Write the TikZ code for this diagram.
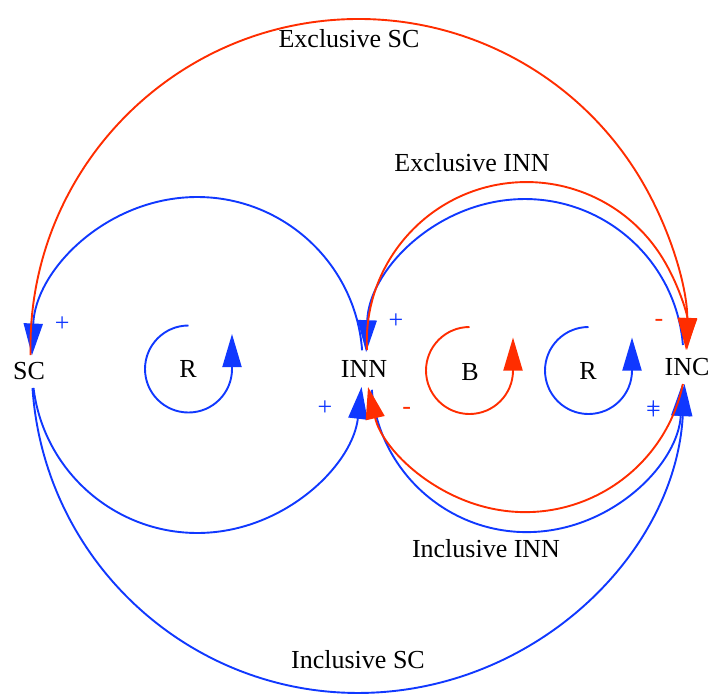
\documentclass[tikz,border=0pt]{standalone}
\usepackage{fontspec}
\setmainfont{Liberation Serif}
\usetikzlibrary{arrows.meta}
\definecolor{vblue}{RGB}{16,56,255}
\definecolor{vred}{RGB}{255,45,0}
\begin{document}
\begin{tikzpicture}[x=1pt,y=-1pt,
  txt/.style={font=\fontsize{26}{30}\selectfont, inner sep=0pt, anchor=center},
  pol/.style={font=\fontsize{26}{30}\selectfont, inner sep=0pt, anchor=base},
  link/.style={line width=1.9pt, -{Triangle[length=32pt,width=19pt]}},
  bluelink/.style={link, draw=vblue},
  redlink/.style={link, draw=vred},
  loopbox/.style={line width=1.9pt, -{Triangle[length=33pt,width=19pt]}}
]
\path[use as bounding box] (0,0) rectangle (708,698);

% variables
\node[txt] (SC)  at (29,371)  {SC};
\node[txt] (INN) at (364,369) {INN};
\node[txt] (INC) at (687,367) {INC};

% connector end points
\coordinate (SCtop)   at (30.55,355.0);
\coordinate (INNtopA) at (362.1,350.3);
\coordinate (SCbot)   at (33.5,387.9);
\coordinate (INNtopB) at (367.0,350.1);
\coordinate (INCtop)  at (682.9,345.0);
\coordinate (INCbot)  at (682.9,384.0);
\coordinate (INNbot)  at (371.8,389.8);
\coordinate (SCbotB)  at (32.5,388.0);

% INN -> SC (upper)
\draw[bluelink] (INNtopA) arc[start angle=355.8, end angle=182.4, radius=165.4];
% SC -> INN (lower)
\draw[bluelink] (SCbot) arc[start angle=173.0, end angle=6.65, radius=165.2];
% INC -> INN (upper)
\draw[bluelink] (INCtop) arc[start angle=355.4, end angle=182, radius=158.7];
% Inclusive INN : INN -> INC
\draw[bluelink] (INNbot) arc[start angle=175.1, end angle=2.73, radius=155.6];
% Inclusive SC : SC -> INC
\draw[bluelink] (SCbotB) arc[start angle=176.2, end angle=3.09, radius=326.6];
% Exclusive SC : SC -> INC
\draw[redlink] (SCtop) arc[start angle=178.65, end angle=360.47, radius=328.3];
% Exclusive INN : INN -> INC
\draw[redlink] (INNtopB) arc[start angle=177, end angle=363, radius=159.7];
% INC -> INN (lower, red)
\draw[redlink] (INCbot) arc[start angle=11.85, end angle=167.07, radius=161.2];

% link labels
\node[txt] (lExSC)  at (349,39)  {Exclusive SC};
\node[txt] (lExINN) at (472,163) {Exclusive INN};
\node[txt] (lInINN) at (486,549) {Inclusive INN};
\node[txt] (lInSC)  at (358,660) {Inclusive SC};

% polarities
\node[pol, text=vblue] (p1) at (62.3,331.6) {+};
\node[pol, text=vblue] (p2) at (396,328.3) {+};
\node[pol, text=vblue] (p3) at (325,415.6) {+};
\node[pol, text=vblue] (p4) at (653.5,415.9) {+};
\node[pol, text=vblue] (p5) at (653.5,419.3) {+};
\node[pol, text=vred]  (m1) at (659,326.4) {-};
\node[pol, text=vred]  (m2) at (406.7,414) {-};

% loop symbols
\coordinate (L1) at (188.5,325.5);
\coordinate (L2) at (469.5,327);
\coordinate (L3) at (588.5,327);
\draw[loopbox, draw=vblue] (L1) arc[start angle=270, end angle=0, radius=43.5] -- ++(0,-35);
\draw[loopbox, draw=vred]  (L2) arc[start angle=270, end angle=0, radius=43.5] -- ++(0,-33);
\draw[loopbox, draw=vblue] (L3) arc[start angle=270, end angle=0, radius=43.5] -- ++(0,-33);
\node[txt] (R1) at (188,369) {R};
\node[txt] (B1) at (470,372) {B};
\node[txt] (R2) at (588,371) {R};
\end{tikzpicture}
\end{document}
